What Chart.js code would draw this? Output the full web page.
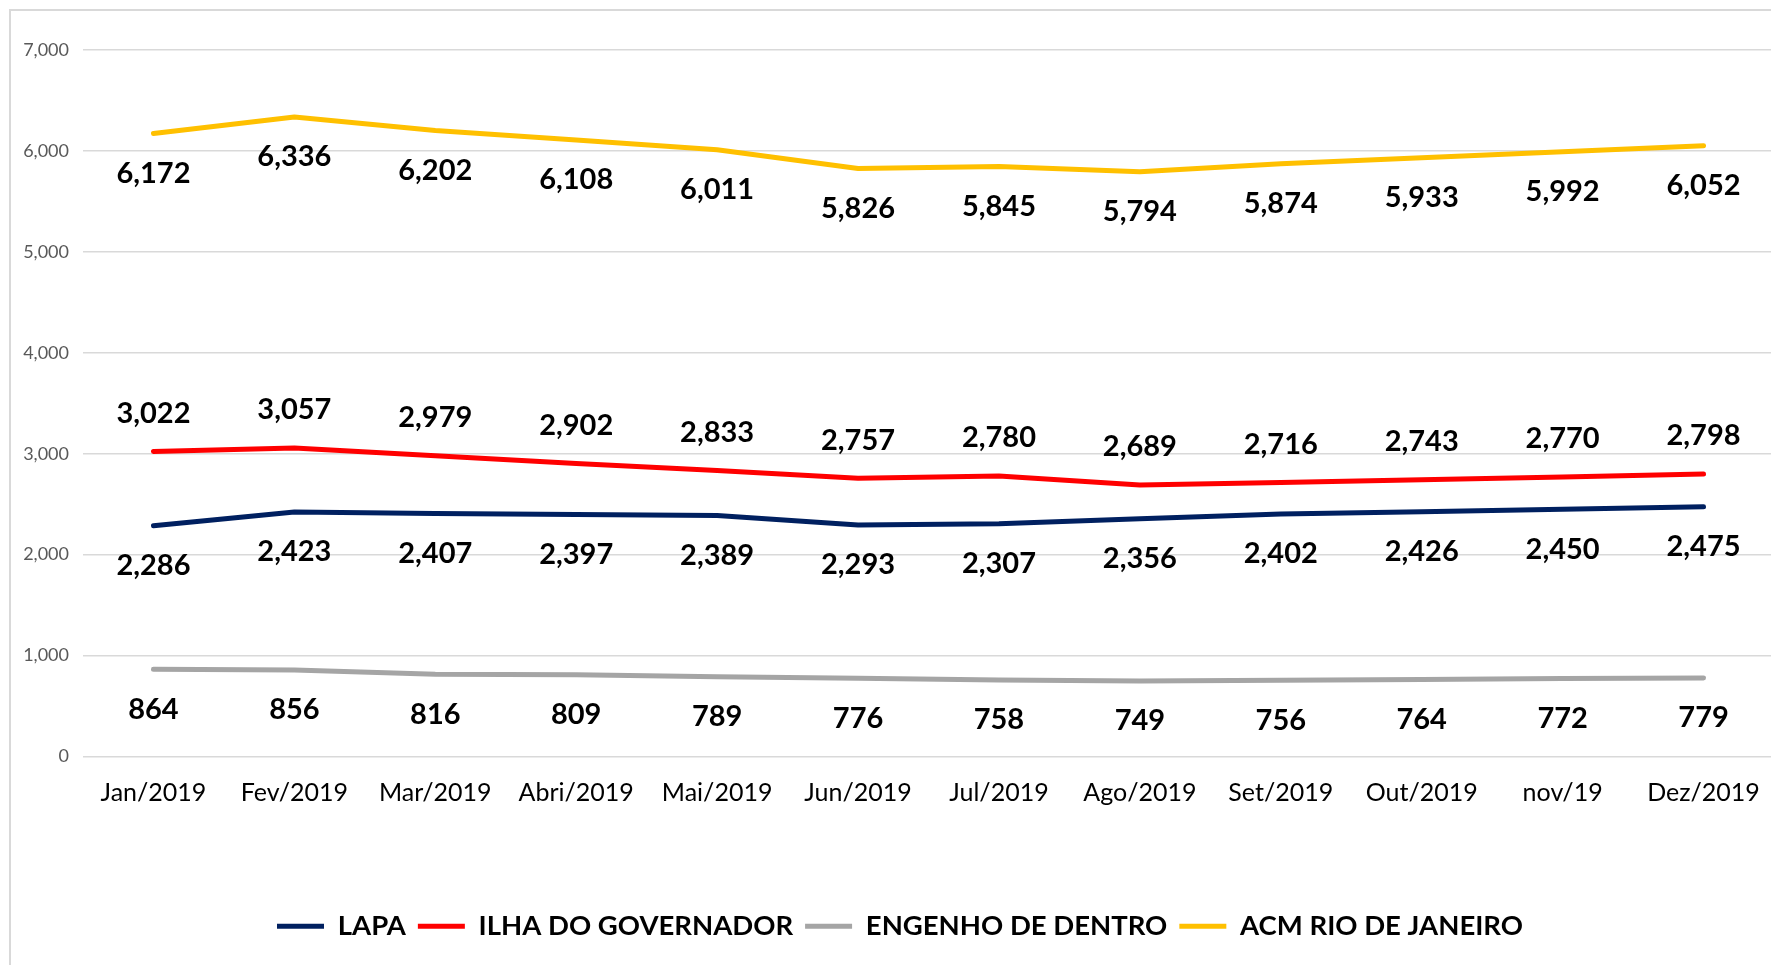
<!DOCTYPE html>
<html>
<head>
<meta charset="utf-8">
<script src="https://cdn.jsdelivr.net/npm/chart.js@4.4.1/dist/chart.umd.min.js"></script>
<style>
  html, body { margin: 0; padding: 0; background: #fff; overflow: hidden; width: 1771px; height: 965px; }
  #frame { position: absolute; left: 9px; top: 9px; width: 2000px; height: 2000px; border: 2px solid #d9d9d9; }
  #chart { position: absolute; left: 0; top: 0; }
</style>
</head>
<body>
<div id="frame"></div>
<canvas id="chart" width="1800" height="965"></canvas>
<script>
var months = ['Jan/2019', 'Fev/2019', 'Mar/2019', 'Abri/2019', 'Mai/2019', 'Jun/2019',
              'Jul/2019', 'Ago/2019', 'Set/2019', 'Out/2019', 'nov/19', 'Dez/2019'];

var lapa     = [2286, 2423, 2407, 2397, 2389, 2293, 2307, 2356, 2402, 2426, 2450, 2475];
var ilha     = [3022, 3057, 2979, 2902, 2833, 2757, 2780, 2689, 2716, 2743, 2770, 2798];
var engenho  = [864, 856, 816, 809, 789, 776, 758, 749, 756, 764, 772, 779];
var acm      = [6172, 6336, 6202, 6108, 6011, 5826, 5845, 5794, 5874, 5933, 5992, 6052];

var yTicks = [0, 1000, 2000, 3000, 4000, 5000, 6000, 7000];

function fmt(v) { return v.toLocaleString('en-US'); }

// value labels drawn next to each point (above or below the line)
var valueLabels = {
    id: 'valueLabels',
    afterUpdate: function(chart) {
        // the original chart is a bit wider than the visible crop, so its legend sits a little right of centre
        chart.legend.left += 13;
        chart.legend.right += 13;
    },
    afterDatasetsDraw: function(chart) {
        var ctx = chart.ctx;
        ctx.save();
        ctx.font = 'bold 29px Lato';
        ctx.fillStyle = '#000';
        ctx.textAlign = 'center';
        ctx.textBaseline = 'middle';
        chart.data.datasets.forEach(function(ds, i) {
            var meta = chart.getDatasetMeta(i);
            meta.data.forEach(function(pt, j) {
                ctx.fillText(fmt(ds.data[j]), pt.x, pt.y + ds.labelShift);
            });
        });
        ctx.restore();
    }
};

function makeLine(label, data, color, shift) {
    return {
        label: label,
        data: data,
        borderColor: color,
        backgroundColor: color,
        borderWidth: 5,
        borderCapStyle: 'round',
        borderJoinStyle: 'round',
        pointRadius: 0,
        tension: 0,
        labelShift: shift
    };
}

document.fonts.load('bold 29px Lato').then(function() {
    return document.fonts.load('25px Lato');
}).then(draw, draw);

function draw() {
    var ctx = document.getElementById('chart').getContext('2d');
    new Chart(ctx, {
        type: 'line',
        data: {
            labels: months,
            datasets: [
                makeLine('LAPA', lapa, '#002060', 40),
                makeLine('ILHA DO GOVERNADOR', ilha, '#ff0000', -38),
                makeLine('ENGENHO DE DENTRO', engenho, '#a5a5a5', 40),
                makeLine('ACM RIO DE JANEIRO', acm, '#ffc000', 40)
            ]
        },
        options: {
            responsive: false,
            animation: false,
            devicePixelRatio: 1,
            layout: { padding: { top: 50, left: 0, right: 26, bottom: 15 } },
            plugins: {
                tooltip: { enabled: false },
                legend: {
                    position: 'bottom',
                    labels: {
                        usePointStyle: true,
                        pointStyle: 'line',
                        pointStyleWidth: 47,
                        boxHeight: 27,
                        padding: 12,
                        color: '#000',
                        font: { family: 'Lato', size: 27.5, weight: 'bold' }
                    }
                }
            },
            scales: {
                x: {
                    offset: true,
                    grid: { display: false, drawTicks: false },
                    border: { display: false },
                    ticks: {
                        color: '#000',
                        padding: 21,
                        maxRotation: 0,
                        autoSkip: false,
                        font: { family: 'Lato', size: 25 }
                    },
                    afterFit: function(scale) { scale.height = 144; }
                },
                y: {
                    min: 0,
                    max: 7000,
                    afterBuildTicks: function(scale) {
                        scale.ticks = yTicks.map(function(v) { return { value: v }; });
                    },
                    grid: { color: '#d9d9d9', lineWidth: 1.5, drawTicks: false },
                    border: { display: false },
                    ticks: {
                        color: '#595959',
                        padding: 14,
                        font: { family: 'Lato', size: 18 },
                        callback: function(v) { return fmt(v); }
                    },
                    afterFit: function(scale) { scale.width = 83; }
                }
            }
        },
        plugins: [valueLabels]
    });
}
</script>
</body>
</html>
